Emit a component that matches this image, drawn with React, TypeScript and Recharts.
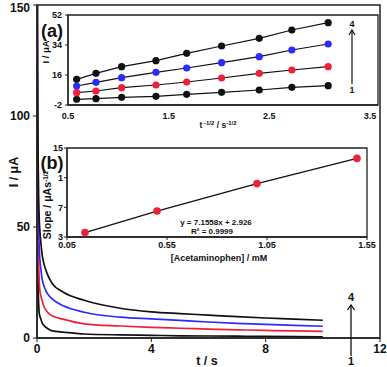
import React from "react";
import { LineChart, Line, XAxis, YAxis, ReferenceArea } from "recharts";

// ---- Main chronoamperograms (t / s vs I / µA) ----
const mainTimeS = [0.01, 0.02, 0.04, 0.06, 0.08, 0.105, 0.135, 0.174, 0.244, 0.355, 0.53, 0.94, 1.65, 2.91, 4, 5, 6, 7, 8, 9, 10];
const mainCurve1 = [150, 50, 24, 15, 11, 9.6, 8.6, 7.0, 5.6, 4.4, 3.2, 2.6, 1.8, 1.4, 1.2, 1.0, 0.9, 0.8, 0.7, 0.6, 0.5];
const mainCurve2 = [150, 75, 45, 33, 25, 21.0, 19.0, 17.0, 14.2, 11.8, 10.0, 8.4, 6.4, 5.4, 4.8, 4.4, 4.0, 3.7, 3.4, 3.2, 3.0];
const mainCurve3 = [150, 95, 62, 48, 40, 34.6, 31.0, 27.0, 23.4, 20.2, 17.6, 14.4, 11.6, 9.4, 8.6, 7.9, 7.2, 6.6, 6.1, 5.7, 5.3];
const mainCurve4 = [150, 110, 80, 62, 53, 47.4, 43.0, 38.0, 33.4, 29.0, 24.6, 20.5, 17.0, 13.4, 11.8, 11.0, 10.3, 9.6, 9.0, 8.5, 8.0];
const mainXTicks = [0, 4, 8, 12];
const mainYTicks = [0, 50, 100, 150];

// ---- Inset (a): I vs t^-1/2 ----
const insetAX = [0.586, 0.778, 1.033, 1.374, 1.679, 2.026, 2.4, 2.724, 3.085];
const insetAI1 = [1.4, 1.8, 2.6, 3.2, 4.4, 5.6, 7.0, 8.6, 9.6];
const insetAI2 = [5.4, 6.4, 8.4, 10.0, 11.8, 14.2, 17.0, 19.0, 21.0];
const insetAI3 = [9.4, 11.6, 14.4, 17.6, 20.2, 23.4, 27.0, 31.0, 34.6];
const insetAI4 = [13.4, 17.0, 21.0, 24.6, 29.0, 33.4, 38.0, 43.0, 47.4];
const insetAXTicks = [0.5, 1.5, 2.5, 3.5];
const insetAYTicks = [-2, 16, 34, 52];

// ---- Inset (b): slope vs concentration ----
const insetBConc = [0.14, 0.5, 1.0, 1.5];
const insetBSlope = [3.6, 6.5, 10.2, 13.6];
const insetBXTicks = [0.05, 0.55, 1.05, 1.55];
const insetBYTicks = [3, 7, 11, 15];
const insetBYTickLabels = ["3", "7", "1", "15"];

const BLACK = "#111";
const RED = "#f0203a";
const BLUE = "#2b2bff";
const FONT = "'Liberation Sans', Arial, sans-serif";

const mainData = mainTimeS.map((t, i) => ({
  t,
  c1: mainCurve1[i],
  c2: mainCurve2[i],
  c3: mainCurve3[i],
  c4: mainCurve4[i],
}));
const insetAData = insetAX.map((x, i) => ({
  x,
  a1: insetAI1[i],
  a2: insetAI2[i],
  a3: insetAI3[i],
  a4: insetAI4[i],
}));
const insetBData = insetBConc.map((x, i) => ({ x, s: insetBSlope[i] }));

const W = 387;
const H = 367;

const abs: React.CSSProperties = { position: "absolute", left: 0, top: 0 };

export default function App() {
  const mainTick = { fill: "#111", fontSize: 12, fontWeight: 700, fontFamily: FONT };
  const smallTick = { fill: "#111", fontSize: 9, fontWeight: 700, fontFamily: FONT };
  return (
    <div style={{ position: "absolute", left: 0, top: 0, width: W, height: H, background: "#fff" }}>
      <div style={abs}>
        <LineChart width={W} height={H} data={mainData} margin={{ top: 5, right: 7, left: 0, bottom: 0 }}>
          <XAxis
            dataKey="t"
            type="number"
            domain={[0, 12]}
            ticks={mainXTicks}
            height={29}
            tick={mainTick}
            tickSize={4}
            tickMargin={2}
            axisLine={{ stroke: "#222", strokeWidth: 1.5 }}
            tickLine={{ stroke: "#222" }}
            allowDataOverflow
          />
          <YAxis
            type="number"
            domain={[0, 150]}
            ticks={mainYTicks}
            width={37}
            tick={mainTick}
            tickSize={4}
            tickMargin={3}
            axisLine={{ stroke: "#222", strokeWidth: 1.5 }}
            tickLine={{ stroke: "#222" }}
            allowDataOverflow
          />
          <ReferenceArea x1={0} x2={12} y1={0} y2={150} fill="none" stroke="#222" strokeWidth={1.5} />
          <Line dataKey="c1" type="monotone" stroke={BLACK} strokeWidth={1.7} dot={false} isAnimationActive={false} />
          <Line dataKey="c2" type="monotone" stroke={RED} strokeWidth={1.7} dot={false} isAnimationActive={false} />
          <Line dataKey="c3" type="monotone" stroke={BLUE} strokeWidth={1.7} dot={false} isAnimationActive={false} />
          <Line dataKey="c4" type="monotone" stroke={BLACK} strokeWidth={1.7} dot={false} isAnimationActive={false} />
        </LineChart>
      </div>

      <div style={abs}>
        <LineChart width={W} height={H} data={insetAData} margin={{ top: 15, right: 9, left: 0, bottom: 0 }}>
          <XAxis
            dataKey="x"
            type="number"
            domain={[0.5, 3.58]}
            ticks={insetAXTicks}
            height={262}
            tick={smallTick}
            tickLine={false}
            tickMargin={2}
            axisLine={{ stroke: "#222", strokeWidth: 1.3 }}
            allowDataOverflow
          />
          <YAxis
            type="number"
            domain={[-2, 52]}
            ticks={insetAYTicks}
            width={68}
            tick={smallTick}
            tickSize={3}
            tickMargin={3}
            axisLine={{ stroke: "#222", strokeWidth: 1.3 }}
            tickLine={{ stroke: "#222" }}
            allowDataOverflow
          />
          <ReferenceArea x1={0.5} x2={3.58} y1={-2} y2={52} fill="none" stroke="#222" strokeWidth={1.3} />
          <Line dataKey="a1" type="linear" stroke={BLACK} strokeWidth={1.2} dot={{ r: 3.6, fill: BLACK, stroke: BLACK, strokeWidth: 0 }} isAnimationActive={false} />
          <Line dataKey="a2" type="linear" stroke={BLACK} strokeWidth={1.2} dot={{ r: 3.6, fill: RED, stroke: RED, strokeWidth: 0 }} isAnimationActive={false} />
          <Line dataKey="a3" type="linear" stroke={BLACK} strokeWidth={1.2} dot={{ r: 3.6, fill: BLUE, stroke: BLUE, strokeWidth: 0 }} isAnimationActive={false} />
          <Line dataKey="a4" type="linear" stroke={BLACK} strokeWidth={1.2} dot={{ r: 3.6, fill: BLACK, stroke: BLACK, strokeWidth: 0 }} isAnimationActive={false} />
        </LineChart>
      </div>

      <div style={abs}>
        <LineChart width={W} height={H} data={insetBData} margin={{ top: 148, right: 20, left: 0, bottom: 0 }}>
          <XAxis
            dataKey="x"
            type="number"
            domain={[0.05, 1.55]}
            ticks={insetBXTicks}
            height={130}
            tick={smallTick}
            tickLine={{ stroke: "#222" }}
            tickSize={3}
            tickMargin={2}
            axisLine={{ stroke: "#222", strokeWidth: 1.3 }}
            allowDataOverflow
          />
          <YAxis
            type="number"
            domain={[3, 15]}
            ticks={insetBYTicks}
            tickFormatter={(v: number) => insetBYTickLabels[insetBYTicks.indexOf(v)] ?? String(v)}
            width={67}
            tick={smallTick}
            tickSize={3}
            tickMargin={1}
            axisLine={{ stroke: "#222", strokeWidth: 1.3 }}
            tickLine={{ stroke: "#222" }}
            allowDataOverflow
          />
          <ReferenceArea x1={0.05} x2={1.55} y1={3} y2={15} fill="none" stroke="#222" strokeWidth={1.3} />
          <Line dataKey="s" type="linear" stroke={BLACK} strokeWidth={1.3} dot={{ r: 3.8, fill: RED, stroke: RED, strokeWidth: 0 }} isAnimationActive={false} />
        </LineChart>
      </div>

      <svg width={W} height={H} style={{ ...abs, pointerEvents: "none" }} fontFamily={FONT} fontWeight={700} fill="#111">
        {/* main axis titles */}
        <text transform="translate(18,172) rotate(-90)" textAnchor="middle" fontSize={12.5}>I / μA</text>
        <text x={207} y={364.5} textAnchor="middle" fontSize={12.5}>t / s</text>

        {/* main arrow 1 -> 4 */}
        <line x1={351} y1={356} x2={351} y2={306} stroke="#111" strokeWidth={1.3} />
        <polyline points="347.5,310 351,305 354.5,310" fill="none" stroke="#111" strokeWidth={1.3} />
        <text x={351} y={301} textAnchor="middle" fontSize={11}>4</text>
        <text x={351} y={365} textAnchor="middle" fontSize={11}>1</text>

        {/* inset (a) */}
        <text x={52} y={37} textAnchor="middle" fontSize={18}>(a)</text>
        <text transform="translate(49,52) rotate(-90)" textAnchor="middle" fontSize={9.5}>I / μA</text>
        <text x={218} y={128} textAnchor="middle" fontSize={8.5}>
          t<tspan dy={-3} fontSize={6}> -1/2</tspan>
          <tspan dy={3}> / s</tspan>
          <tspan dy={-3} fontSize={6}>-1/2</tspan>
        </text>
        <line x1={352} y1={84} x2={352} y2={31} stroke="#111" strokeWidth={1.2} />
        <polyline points="349,35 352,30 355,35" fill="none" stroke="#111" strokeWidth={1.2} />
        <text x={352} y={26.5} textAnchor="middle" fontSize={9}>4</text>
        <text x={352} y={93} textAnchor="middle" fontSize={9}>1</text>

        {/* inset (b) */}
        <text x={52} y={169} textAnchor="middle" fontSize={18}>(b)</text>
        <text transform="translate(51,205) rotate(-90)" textAnchor="middle" fontSize={10.5}>
          Slope / μAs<tspan dy={-3.5} fontSize={6.5}>-1/2</tspan>
        </text>
        <text x={219} y={261} textAnchor="middle" fontSize={9}>[Acetaminophen] / mM</text>
        <text x={216} y={224.5} textAnchor="middle" fontSize={8} fontWeight={700}>y = 7.1558x + 2.926</text>
        <text x={212} y={233.5} textAnchor="middle" fontSize={8} fontWeight={700}>R² = 0.9999</text>
      </svg>
    </div>
  );
}
